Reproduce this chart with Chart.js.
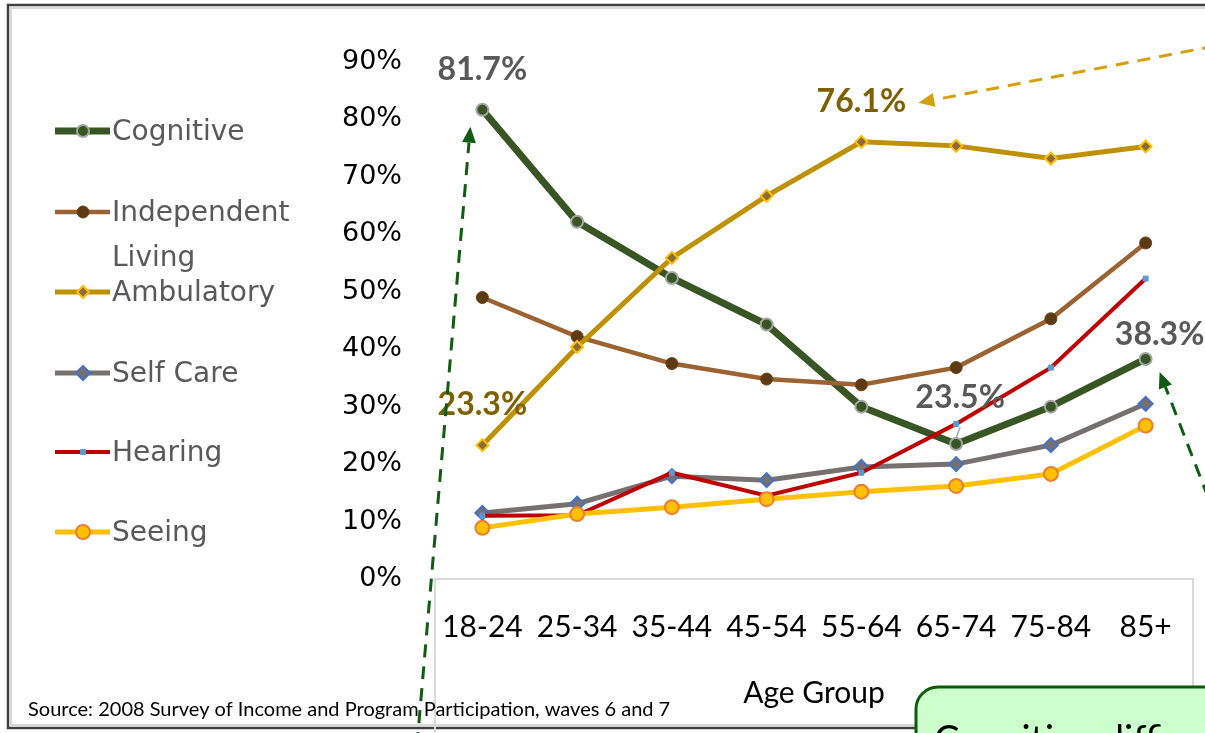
<!DOCTYPE html>
<html>
<head>
<meta charset="utf-8">
<script src="https://cdn.jsdelivr.net/npm/chart.js@4.4.1/dist/chart.umd.min.js"></script>
<style>
  html, body { margin: 0; padding: 0; background: #ffffff; }
  canvas { display: block; }
</style>
</head>
<body>
<canvas id="c" width="1205" height="733"></canvas>
<script>
// ---- data ----
const categories = ['18-24', '25-34', '35-44', '45-54', '55-64', '65-74', '75-84', '85+'];
const cognitive = [81.7, 62.2, 52.4, 44.3, 30.0, 23.5, 30.0, 38.3];
const independentLiving = [49.0, 42.2, 37.5, 34.8, 33.8, 36.8, 45.3, 58.5];
const ambulatory = [23.3, 40.4, 55.9, 66.7, 76.1, 75.4, 73.2, 75.3];
const selfCare = [11.5, 13.1, 17.9, 17.2, 19.5, 20.0, 23.3, 30.5];
const hearing = [11.0, 11.1, 18.5, 14.5, 18.5, 27.0, 36.8, 52.3];
const seeing = [8.9, 11.3, 12.5, 13.9, 15.2, 16.2, 18.3, 26.7];
const seriesNames = ['Cognitive', 'Independent Living', 'Ambulatory', 'Self Care', 'Hearing', 'Seeing'];
const yTickValues = [0, 10, 20, 30, 40, 50, 60, 70, 80, 90];
const xTitle = 'Age Group';
const sourceNote = 'Source: 2008 Survey of Income and Program Participation, waves 6 and 7';
const calloutText = 'Cognitive difficulty';
// highlighted value labels: [series index, category index]
const highlightSeries = [0, 2, 2, 0, 0];
const highlightIndex = [0, 4, 0, 5, 7];

// ---- styles ----
const labelStyles = [
  { color: '#595959', dx: 0, dy: -40 },
  { color: '#7f6000', dx: 0, dy: -40 },
  { color: '#7f6000', dx: 0, dy: -40 },
  { color: '#595959', dx: 4, dy: -46 },
  { color: '#595959', dx: 14, dy: -24 }
];

const styles = [
  { line: '#375623', width: 7, style: 'circle', r: 6, bg: '#375623', bd: '#a6a6a6', bw: 2, order: 6 },
  { line: '#9c6232', width: 4.5, style: 'circle', r: 6, bg: '#5e3a12', bd: '#6b4218', bw: 1, order: 5 },
  { line: '#bf9000', width: 5, style: 'rectRot', r: 6, bg: '#8c6a3a', bd: '#ffc000', bw: 2, order: 4 },
  { line: '#767171', width: 5, style: 'rectRot', r: 7, bg: '#767171', bd: '#4472c4', bw: 2, order: 3 },
  { line: '#c00000', width: 4, style: 'rect', r: 3.5, bg: '#5b9bd5', bd: '#5b9bd5', bw: 1, order: 2 },
  { line: '#ffc000', width: 5, style: 'circle', r: 7, bg: '#ffc000', bd: '#ed7d31', bw: 2, order: 1 }
];
const seriesData = [cognitive, independentLiving, ambulatory, selfCare, hearing, seeing];

const datasets = seriesData.map((d, i) => ({
  label: seriesNames[i],
  data: d,
  borderColor: styles[i].line,
  borderWidth: styles[i].width,
  pointStyle: styles[i].style,
  pointRadius: styles[i].r,
  pointBackgroundColor: styles[i].bg,
  pointBorderColor: styles[i].bd,
  pointBorderWidth: styles[i].bw,
  tension: 0,
  fill: false,
  order: styles[i].order
}));

function drawArrow(ctx, x1, y1, x2, y2, color) {
  ctx.save();
  ctx.strokeStyle = color;
  ctx.fillStyle = color;
  ctx.lineWidth = 3;
  ctx.setLineDash([13, 9]);
  const ang = Math.atan2(y2 - y1, x2 - x1);
  const hl = 16, hw = 7;
  const bx = x2 - Math.cos(ang) * hl, by = y2 - Math.sin(ang) * hl;
  ctx.beginPath();
  ctx.moveTo(x1, y1);
  ctx.lineTo(bx, by);
  ctx.stroke();
  ctx.setLineDash([]);
  ctx.beginPath();
  ctx.moveTo(x2, y2);
  ctx.lineTo(bx + Math.sin(ang) * hw, by - Math.cos(ang) * hw);
  ctx.lineTo(bx - Math.sin(ang) * hw, by + Math.cos(ang) * hw);
  ctx.closePath();
  ctx.fill();
  ctx.restore();
}

const decor = {
  id: 'decor',
  beforeDraw(chart) {
    const { ctx, chartArea } = chart;
    ctx.save();
    ctx.fillStyle = '#ffffff';
    ctx.fillRect(0, 0, chart.width, chart.height);
    ctx.strokeStyle = '#d9d9d9';
    ctx.lineWidth = 2;
    ctx.strokeRect(11, 8, 1220, 717);
    ctx.strokeStyle = '#404040';
    ctx.lineWidth = 2.5;
    ctx.strokeRect(8, 5, 1225, 723);
    ctx.strokeStyle = '#d9d9d9';
    ctx.lineWidth = 2;
    ctx.strokeRect(chartArea.left, chartArea.bottom, chartArea.right - chartArea.left, 200);
    ctx.restore();
  },
  afterDraw(chart) {
    const { ctx } = chart;
    const xs = chart.scales.x, ys = chart.scales.y;
    ctx.save();
    ctx.strokeStyle = '#a6a6a6';
    ctx.lineWidth = 1.5;
    ctx.beginPath();
    ctx.moveTo(xs.getPixelForValue(5) + 4, ys.getPixelForValue(hearing[5]) + 3);
    ctx.lineTo(xs.getPixelForValue(5), ys.getPixelForValue(cognitive[5]) - 6);
    ctx.stroke();

    ctx.font = 'bold 32px Lato';
    ctx.textAlign = 'center';
    ctx.textBaseline = 'middle';
    highlightSeries.forEach((s, k) => {
      const i = highlightIndex[k];
      const v = seriesData[s][i];
      const st = labelStyles[k];
      ctx.fillStyle = st.color;
      ctx.fillText(v.toFixed(1) + '%', xs.getPixelForValue(i) + st.dx, ys.getPixelForValue(v) + st.dy);
    });

    const p0x = xs.getPixelForValue(0), p0y = ys.getPixelForValue(cognitive[0]);
    drawArrow(ctx, 417, 745, p0x - 12, p0y + 17, '#0f5c12');
    const p4x = xs.getPixelForValue(4), p4y = ys.getPixelForValue(ambulatory[4]);
    drawArrow(ctx, 1215, 46, p4x + 57, p4y - 39, '#d4a00e');
    const p7x = xs.getPixelForValue(7), p7y = ys.getPixelForValue(cognitive[7]);
    drawArrow(ctx, 1208, 497, p7x + 14, p7y + 13, '#0f5c12');

    const legY = [131, 212, 292, 373, 452, 532];
    ctx.font = '28px "DejaVu Sans"';
    ctx.textAlign = 'left';
    ctx.textBaseline = 'middle';
    datasets.forEach((ds, i) => {
      const y = legY[i];
      ctx.strokeStyle = ds.borderColor;
      ctx.lineWidth = ds.borderWidth;
      ctx.setLineDash([]);
      ctx.beginPath();
      ctx.moveTo(55, y);
      ctx.lineTo(110, y);
      ctx.stroke();
      ctx.fillStyle = ds.pointBackgroundColor;
      ctx.strokeStyle = ds.pointBorderColor;
      ctx.lineWidth = ds.pointBorderWidth;
      Chart.helpers.drawPoint(ctx, { pointStyle: ds.pointStyle, radius: ds.pointRadius, rotation: 0, borderWidth: ds.pointBorderWidth }, 83, y);
      ctx.fillStyle = '#595959';
      const words = ds.label.split(' ');
      let lines = [ds.label];
      if (ctx.measureText(ds.label).width > 200) lines = words;
      lines.forEach((t, li) => ctx.fillText(t, 112, y + 2 + li * 45));
    });

    ctx.fillStyle = '#000000';
    ctx.font = '20px Lato';
    ctx.textBaseline = 'middle';
    ctx.fillText(sourceNote, 28, 710);

    ctx.fillStyle = '#ccffcc';
    ctx.strokeStyle = '#0a5c0a';
    ctx.lineWidth = 3;
    ctx.beginPath();
    ctx.roundRect(916, 687, 340, 120, 22);
    ctx.fill();
    ctx.stroke();
    ctx.fillStyle = '#000000';
    ctx.font = '38px Lato';
    ctx.textBaseline = 'alphabetic';
    ctx.fillText(calloutText, 934, 753);
    ctx.restore();
  }
};

new Chart(document.getElementById('c'), {
  type: 'line',
  data: { labels: categories, datasets },
  options: {
    responsive: false,
    animation: false,
    devicePixelRatio: 1,
    layout: { padding: { left: 0, right: 12, top: 62, bottom: 0 } },
    plugins: { legend: { display: false }, tooltip: { enabled: false } },
    scales: {
      x: {
        offset: true,
        grid: { display: false, drawTicks: false },
        border: { display: false },
        ticks: { color: '#000000', font: { family: 'Lato', size: 30 }, padding: 30, maxRotation: 0, autoSkip: false },
        title: { display: true, text: xTitle, color: '#000000', font: { family: 'Lato', size: 30 }, padding: { top: 0, bottom: 22 } },
        afterFit(scale) { scale.height = 154; }
      },
      y: {
        min: 0,
        max: 90,
        afterBuildTicks(scale) { scale.ticks = yTickValues.map(v => ({ value: v })); },
        grid: { display: false, drawTicks: false },
        border: { display: false },
        ticks: { color: '#000000', font: { family: 'DejaVu Sans', size: 27 }, padding: 33, callback: v => v + '%' },
        afterFit(scale) { scale.width = 435; }
      }
    }
  },
  plugins: [decor]
});
</script>
</body>
</html>
